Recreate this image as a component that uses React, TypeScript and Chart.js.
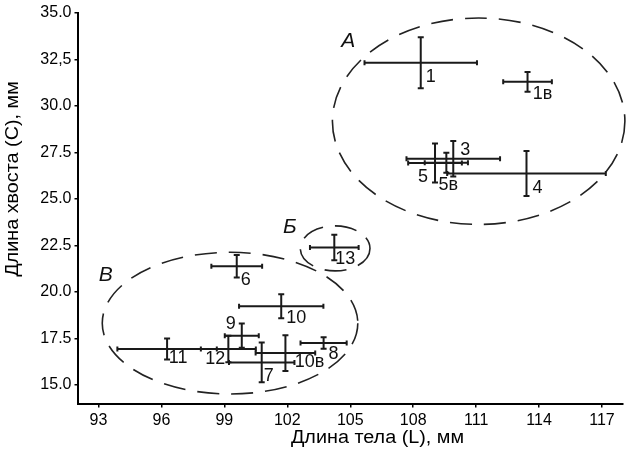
import React, { useEffect, useRef } from 'react';
import { Chart, registerables } from 'chart.js';

Chart.register(...registerables);

const FONT = '"Liberation Sans", Arial, Helvetica, sans-serif';

// ---- data ----
const pointLabels = ['1', '1в', '3', '4', '5', '5в', '13', '6', '10', '11', '12', '9', '7', '10в', '8'];
const bodyLength = [108.36, 113.45, 109.91, 113.4, 109.04, 109.58, 104.24, 99.59, 101.71, 96.27, 99.19, 99.83, 100.78, 101.91, 103.73];
const bodyLengthErr = [2.68, 1.16, 2.23, 3.78, 1.28, 1.03, 1.16, 1.21, 2.01, 2.37, 1.31, 0.81, 1.56, 1.42, 1.1];
const tailLength = [32.32, 31.3, 27.16, 26.37, 26.93, 26.95, 22.39, 21.38, 19.23, 16.93, 16.93, 17.65, 16.21, 16.71, 17.25];
const tailLengthErr = [1.37, 0.53, 0.95, 1.21, 1.05, 0.54, 0.68, 0.61, 0.64, 0.57, 0.71, 0.65, 1.07, 0.96, 0.31];

const groupNames = ['А', 'Б', 'В'];
const groupCenterX = [111.12, 104.28, 99.27];
const groupCenterY = [29.18, 22.34, 18.32];
const groupRadiusX = [6.97, 1.66, 6.09];
const groupRadiusY = [5.55, 1.21, 3.81];
const groupLabelX = [104.91, 102.12, 93.35];
const groupLabelY = [33.46, 23.48, 20.9];

const xTickValues = [93, 96, 99, 102, 105, 108, 111, 114, 117];
const xTickLabels = ['93', '96', '99', '102', '105', '108', '111', '114', '117'];
const yTickValues = [15, 17.5, 20, 22.5, 25, 27.5, 30, 32.5, 35];
const yTickLabels = ['15.0', '17.5', '20.0', '22.5', '25.0', '27.5', '30.0', '32,5', '35.0'];
const xAxisTitle = 'Длина тела (L), мм';
const yAxisTitle = 'Длина хвоста (C), мм';

// ---- styles (label placement in pixels relative to the point) ----
const labelOffsets: [number, number][] = [
  [10, 13], [15, 11], [12, -10], [11, 13], [-12, 12], [2, 21], [11, 10], [9, 12],
  [15, 10], [11, 8], [-13, 9], [-11, -13], [7, 12], [24, 7], [10, 9],
];
const INK = '#1a1a1a';

const overlayPlugin = {
  id: 'overlay',
  afterDatasetsDraw(chart: any) {
    const { ctx, scales, chartArea } = chart;
    const x = scales.x;
    const y = scales.y;
    ctx.save();
    // group ellipses
    ctx.strokeStyle = '#222';
    ctx.lineWidth = 1.6;
    ctx.setLineDash([22, 12]);
    for (let g = 0; g < groupNames.length; g++) {
      const cx = x.getPixelForValue(groupCenterX[g]);
      const cy = y.getPixelForValue(groupCenterY[g]);
      const rx = Math.abs(x.getPixelForValue(groupCenterX[g] + groupRadiusX[g]) - cx);
      const ry = Math.abs(y.getPixelForValue(groupCenterY[g] + groupRadiusY[g]) - cy);
      ctx.beginPath();
      ctx.ellipse(cx, cy, rx, ry, 0, 0, Math.PI * 2);
      ctx.stroke();
    }
    ctx.setLineDash([]);
    ctx.fillStyle = '#111';
    ctx.textAlign = 'center';
    ctx.textBaseline = 'middle';
    ctx.font = `italic 21px ${FONT}`;
    for (let g = 0; g < groupNames.length; g++) {
      ctx.fillText(groupNames[g], x.getPixelForValue(groupLabelX[g]), y.getPixelForValue(groupLabelY[g]));
    }
    // point labels
    const fs = 18;
    ctx.font = `${fs}px ${FONT}`;
    ctx.textBaseline = 'alphabetic';
    for (let i = 0; i < pointLabels.length; i++) {
      const px = x.getPixelForValue(bodyLength[i]) + labelOffsets[i][0];
      const py = y.getPixelForValue(tailLength[i]) + labelOffsets[i][1] + fs * 0.36;
      ctx.fillText(pointLabels[i], px, py);
    }
    // axis titles
    ctx.fillStyle = '#000';
    ctx.font = `18px ${FONT}`;
    ctx.textBaseline = 'middle';
    ctx.save();
    ctx.translate(chartArea.left + 300, chartArea.bottom + 35);
    ctx.scale(1.1, 1);
    ctx.fillText(xAxisTitle, 0, 0);
    ctx.restore();
    ctx.save();
    ctx.translate(13, chartArea.top + 166);
    ctx.rotate(-Math.PI / 2);
    ctx.scale(1.1, 1);
    ctx.fillText(yAxisTitle, 0, 0);
    ctx.restore();
    ctx.restore();
  },
};

function buildDatasets() {
  const ds: any[] = [];
  for (let i = 0; i < pointLabels.length; i++) {
    ds.push({
      label: pointLabels[i] + ' L',
      data: [
        { x: bodyLength[i] - bodyLengthErr[i], y: tailLength[i] },
        { x: bodyLength[i] + bodyLengthErr[i], y: tailLength[i] },
      ],
      showLine: true,
      borderColor: INK,
      borderWidth: 2,
      pointStyle: 'line',
      rotation: 90,
      pointRadius: 2.5,
      pointBorderWidth: 2,
      pointBorderColor: INK,
      pointBackgroundColor: INK,
    });
    ds.push({
      label: pointLabels[i] + ' C',
      data: [
        { x: bodyLength[i], y: tailLength[i] - tailLengthErr[i] },
        { x: bodyLength[i], y: tailLength[i] + tailLengthErr[i] },
      ],
      showLine: true,
      borderColor: INK,
      borderWidth: 2,
      pointStyle: 'line',
      rotation: 0,
      pointRadius: 3,
      pointBorderWidth: 2,
      pointBorderColor: INK,
      pointBackgroundColor: INK,
    });
  }
  return ds;
}

export default function App() {
  const ref = useRef<HTMLCanvasElement | null>(null);
  useEffect(() => {
    if (!ref.current) return;
    const chart = new Chart(ref.current, {
      type: 'scatter',
      data: { datasets: buildDatasets() },
      options: {
        animation: false,
        responsive: false,
        devicePixelRatio: 1,
        layout: { padding: { top: 13, right: 1, left: 0, bottom: 0 } },
        plugins: { legend: { display: false }, tooltip: { enabled: false } },
        scales: {
          x: {
            type: 'linear',
            min: 92,
            max: 118,
            afterBuildTicks: (s: any) => {
              s.ticks = xTickValues.map((v) => ({ value: v }));
            },
            afterFit: (s: any) => {
              s.height = 47.5;
            },
            ticks: {
              font: { family: FONT, size: 16 },
              color: '#000',
              padding: 3,
              maxRotation: 0,
              autoSkip: false,
              callback: (v: any) => {
                const k = xTickValues.indexOf(Number(v));
                return k >= 0 ? xTickLabels[k] : '';
              },
            },
            grid: { drawOnChartArea: false, drawTicks: true, tickLength: 4, color: '#000', lineWidth: 1.5 },
            border: { display: true, color: '#000', width: 2 },
          },
          y: {
            type: 'linear',
            min: 14,
            max: 35,
            afterBuildTicks: (s: any) => {
              s.ticks = yTickValues.map((v) => ({ value: v }));
            },
            afterFit: (s: any) => {
              s.width = 77.5;
            },
            ticks: {
              font: { family: FONT, size: 16 },
              color: '#000',
              padding: 3,
              autoSkip: false,
              callback: (v: any) => {
                const k = yTickValues.indexOf(Number(v));
                return k >= 0 ? yTickLabels[k] : '';
              },
            },
            grid: { drawOnChartArea: false, drawTicks: true, tickLength: 3, color: '#000', lineWidth: 1.5 },
            border: { display: true, color: '#000', width: 2 },
          },
        },
      },
      plugins: [overlayPlugin],
    });
    return () => chart.destroy();
  }, []);
  return (
    <div style={{ position: 'absolute', left: 0, top: 0, width: 629, height: 451, background: '#fff' }}>
      <canvas ref={ref} width={629} height={451} style={{ display: 'block' }} />
    </div>
  );
}
